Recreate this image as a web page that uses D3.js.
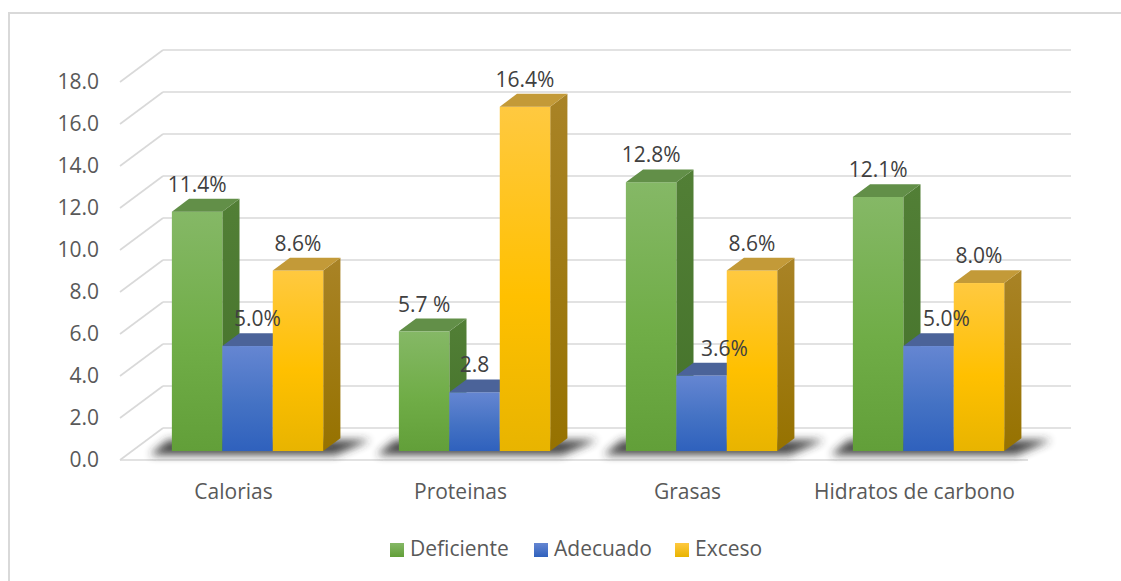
<!DOCTYPE html>
<html>
<head>
<meta charset="utf-8">
<script src="https://cdn.jsdelivr.net/npm/d3@7/dist/d3.min.js"></script>
<style>
  html, body { margin: 0; padding: 0; background: #fff; }
  svg { display: block; }
  text { font-family: 'Open Sans', 'Noto Sans', sans-serif; }
</style>
</head>
<body>
<svg id="chart" width="1121" height="581"></svg>
<script>
// data
const categories = ['Calorias', 'Proteinas', 'Grasas', 'Hidratos de carbono']
const seriesNames = ['Deficiente', 'Adecuado', 'Exceso']
const deficiente = [11.4, 5.7, 12.8, 12.1]
const adecuado = [5.0, 2.8, 3.6, 5.0]
const exceso = [8.6, 16.4, 8.6, 8.0]
const deficienteLabels = ['11.4%', '5.7 %', '12.8%', '12.1%']
const adecuadoLabels = ['5.0%', '2.8', '3.6%', '5.0%']
const excesoLabels = ['8.6%', '16.4%', '8.6%', '8.0%']
const yTicks = [0, 2, 4, 6, 8, 10, 12, 14, 16, 18]

const seriesValues = [deficiente, adecuado, exceso]
const seriesLabels = [deficienteLabels, adecuadoLabels, excesoLabels]

// layout
const svg = d3.select('#chart')
const front = { x0: 120, x1: 1028 }
const depth = { dx: 43, dy: -32 }
const f0 = 0.28
const f1 = 0.68
const ddx = depth.dx * (f1 - f0)
const ddy = depth.dy * (f1 - f0)
const fontSize = '21px'
// hand-moved labels in the original (x nudge per series / category)
const labelNudge = [[0, 0, 0, 0], [10, 0, 23, 18], [0, 0, 0, 0]]

const y = d3.scaleLinear().domain([0, 18]).range([460, 82])
const x = d3.scaleBand().domain(categories).range([front.x0, front.x1])
const barW = x.bandwidth() / 4.5
const xSub = d3.scaleBand().domain(seriesNames).range([0, barW * 3])

const styles = [
    { top: '#85b866', mid: '#70ad47', bot: '#629f39', side0: '#527f36', side1: '#44722a', cap: '#628f48' },
    { top: '#6586d2', mid: '#4472c4', bot: '#2f61bd', side0: '#3f5d96', side1: '#2f4f8a', cap: '#4b6399' },
    { top: '#ffc940', mid: '#ffc000', bot: '#e8b400', side0: '#a98326', side1: '#967200', cap: '#c39a38' }
]

const defs = svg.append('defs')
styles.forEach(function (s, i) {
    let g = defs.append('linearGradient').attr('id', 'front' + i)
        .attr('x1', 0).attr('y1', 0).attr('x2', 0).attr('y2', 1)
    g.append('stop').attr('offset', '0%').attr('stop-color', s.top)
    g.append('stop').attr('offset', '55%').attr('stop-color', s.mid)
    g.append('stop').attr('offset', '100%').attr('stop-color', s.bot)
    let sd = defs.append('linearGradient').attr('id', 'side' + i)
        .attr('x1', 0).attr('y1', 0).attr('x2', 0).attr('y2', 1)
    sd.append('stop').attr('offset', '0%').attr('stop-color', s.side0)
    sd.append('stop').attr('offset', '100%').attr('stop-color', s.side1)
    let k = defs.append('linearGradient').attr('id', 'key' + i)
        .attr('x1', 0).attr('y1', 0).attr('x2', 0).attr('y2', 1)
    k.append('stop').attr('offset', '0%').attr('stop-color', s.top)
    k.append('stop').attr('offset', '100%').attr('stop-color', s.bot)
})
defs.append('filter').attr('id', 'blur')
    .attr('x', '-20%').attr('y', '-100%').attr('width', '140%').attr('height', '300%')
    .append('feGaussianBlur').attr('stdDeviation', 4)

// outer border
svg.append('rect')
    .attr('x', 9).attr('y', 13).attr('width', 1130).attr('height', 600)
    .attr('fill', 'none').attr('stroke', '#d9d9d9').attr('stroke-width', 2)

// walls: back gridlines + left wall diagonals
const grid = svg.append('g').attr('stroke', '#d9d9d9').attr('stroke-width', 1.6).attr('fill', 'none')
yTicks.forEach(function (t) {
    let yy = y(t)
    grid.append('line')
        .attr('x1', front.x0 + depth.dx).attr('x2', front.x1 + depth.dx)
        .attr('y1', yy + depth.dy).attr('y2', yy + depth.dy)
    grid.append('line')
        .attr('x1', front.x0).attr('x2', front.x0 + depth.dx)
        .attr('y1', yy).attr('y2', yy + depth.dy)
})
grid.append('line')
    .attr('x1', front.x0).attr('x2', front.x1)
    .attr('y1', y(0)).attr('y2', y(0))

// y tick labels
svg.append('g').selectAll('text')
    .data(yTicks)
    .enter()
    .append('text')
    .attr('x', 99)
    .attr('y', d => y(d))
    .attr('dy', '0.35em')
    .attr('text-anchor', 'end')
    .attr('font-size', fontSize)
    .attr('fill', '#595959')
    .text(d => d.toFixed(1))

// bars
const bars = svg.append('g')
const baseY = y(0) + depth.dy * f0
categories.forEach(function (cat, ci) {
    let gx = x(cat) + (x.bandwidth() - barW * 3) / 2 + depth.dx * f0 + 2
    let gRight = gx + barW * 3
    // floor shadow
    bars.append('path')
        .attr('d', 'M' + (gx - 22) + ',' + (baseY + 4) +
            'L' + (gx - 4) + ',' + (baseY - 11) +
            'L' + (gRight + ddx + 30) + ',' + (baseY - 11) +
            'L' + (gRight + 12) + ',' + (baseY + 4) + 'Z')
        .attr('fill', '#2a2a2a')
        .attr('opacity', 0.85)
        .attr('filter', 'url(#blur)')

    seriesNames.forEach(function (sn, si) {
        let v = seriesValues[si][ci]
        let xl = gx + xSub(sn)
        let xr = xl + barW
        let top = y(v) + depth.dy * f0
        let g = bars.append('g')
        g.append('path')
            .attr('d', 'M' + xr + ',' + top + 'L' + (xr + ddx) + ',' + (top + ddy) +
                'L' + (xr + ddx) + ',' + (baseY + ddy) + 'L' + xr + ',' + baseY + 'Z')
            .attr('fill', 'url(#side' + si + ')')
        g.append('rect')
            .attr('x', xl).attr('y', top)
            .attr('width', barW).attr('height', baseY - top)
            .attr('fill', 'url(#front' + si + ')')
        g.append('path')
            .attr('d', 'M' + xl + ',' + top + 'L' + (xl + ddx) + ',' + (top + ddy) +
                'L' + (xr + ddx) + ',' + (top + ddy) + 'L' + xr + ',' + top + 'Z')
            .attr('fill', styles[si].cap)
    })
})

// data labels
categories.forEach(function (cat, ci) {
    let gx = x(cat) + (x.bandwidth() - barW * 3) / 2 + depth.dx * f0 + 2
    seriesNames.forEach(function (sn, si) {
        let v = seriesValues[si][ci]
        let cx = gx + xSub(sn) + barW / 2 + labelNudge[si][ci]
        let top = y(v) + depth.dy * f0 + ddy
        svg.append('text')
            .attr('x', cx)
            .attr('y', top - 7)
            .attr('text-anchor', 'middle')
            .attr('font-size', fontSize)
            .attr('fill', '#404040')
            .text(seriesLabels[si][ci])
    })
})

// category labels
svg.append('g').selectAll('text')
    .data(categories)
    .enter()
    .append('text')
    .attr('x', d => x(d) + x.bandwidth() / 2)
    .attr('y', 499)
    .attr('text-anchor', 'middle')
    .attr('font-size', fontSize)
    .attr('fill', '#595959')
    .text(d => d)

// legend
const legendX = [390, 534, 675]
const legend = svg.append('g').selectAll('g')
    .data(seriesNames)
    .enter()
    .append('g')
    .attr('transform', (d, i) => 'translate(' + legendX[i] + ',543)')
legend.append('rect')
    .attr('width', 14).attr('height', 14)
    .attr('fill', (d, i) => 'url(#key' + i + ')')
legend.append('text')
    .attr('x', 20).attr('y', 13)
    .attr('font-size', fontSize)
    .attr('fill', '#595959')
    .text(d => d)
</script>
</body>
</html>
